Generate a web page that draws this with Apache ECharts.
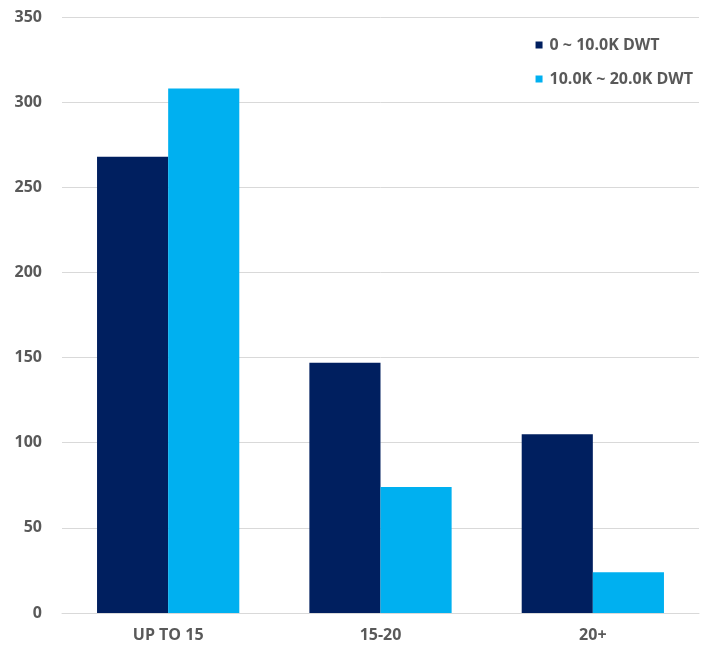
<!DOCTYPE html>
<html>
<head>
<meta charset="utf-8">
<script src="https://cdn.jsdelivr.net/npm/echarts@6/dist/echarts.min.js"></script>
<style>
html,body{margin:0;padding:0;background:#fff;}
#chart{width:701px;height:651px;}
</style>
</head>
<body>
<div id="chart"></div>
<script>
var categories = ['UP TO 15', '15-20', '20+'];
var seriesNames = ['0 ~ 10.0K DWT', '10.0K ~ 20.0K DWT'];
var smallDwt = [268, 147, 105];
var largeDwt = [308, 74, 24];
var yTicks = [0, 50, 100, 150, 200, 250, 300, 350];

var chart = echarts.init(document.getElementById('chart'), null, {renderer: 'canvas'});
var labelFont = {color: '#595959', fontWeight: 'bold', fontFamily: 'Open Sans', fontSize: 16};
chart.setOption({
  animation: false,
  backgroundColor: '#ffffff',
  grid: {left: 62, right: 2, top: 17, bottom: 38, containLabel: false},
  legend: {
    orient: 'vertical',
    right: 3,
    top: 32,
    itemWidth: 7,
    itemHeight: 7,
    itemGap: 18,
    icon: 'rect',
    textStyle: {color: '#595959', fontWeight: 'bold', fontFamily: 'Open Sans', fontSize: 16, padding: [0, 0, 0, 2]},
    data: seriesNames
  },
  xAxis: {
    type: 'category',
    data: categories,
    axisLine: {show: true, lineStyle: {color: '#D9D9D9', width: 1}},
    axisTick: {show: false},
    axisLabel: Object.assign({margin: 14}, labelFont)
  },
  yAxis: {
    type: 'value',
    min: yTicks[0],
    max: yTicks[yTicks.length - 1],
    interval: 50,
    axisLine: {show: false},
    axisTick: {show: false},
    splitLine: {lineStyle: {color: '#D9D9D9', width: 1}},
    axisLabel: Object.assign({margin: 20}, labelFont)
  },
  series: [
    {name: seriesNames[0], type: 'bar', data: smallDwt, barGap: '0%', barCategoryGap: '33%', itemStyle: {color: '#001F5F'}},
    {name: seriesNames[1], type: 'bar', data: largeDwt, barGap: '0%', barCategoryGap: '33%', itemStyle: {color: '#00B0F0'}}
  ]
});
</script>
</body>
</html>
